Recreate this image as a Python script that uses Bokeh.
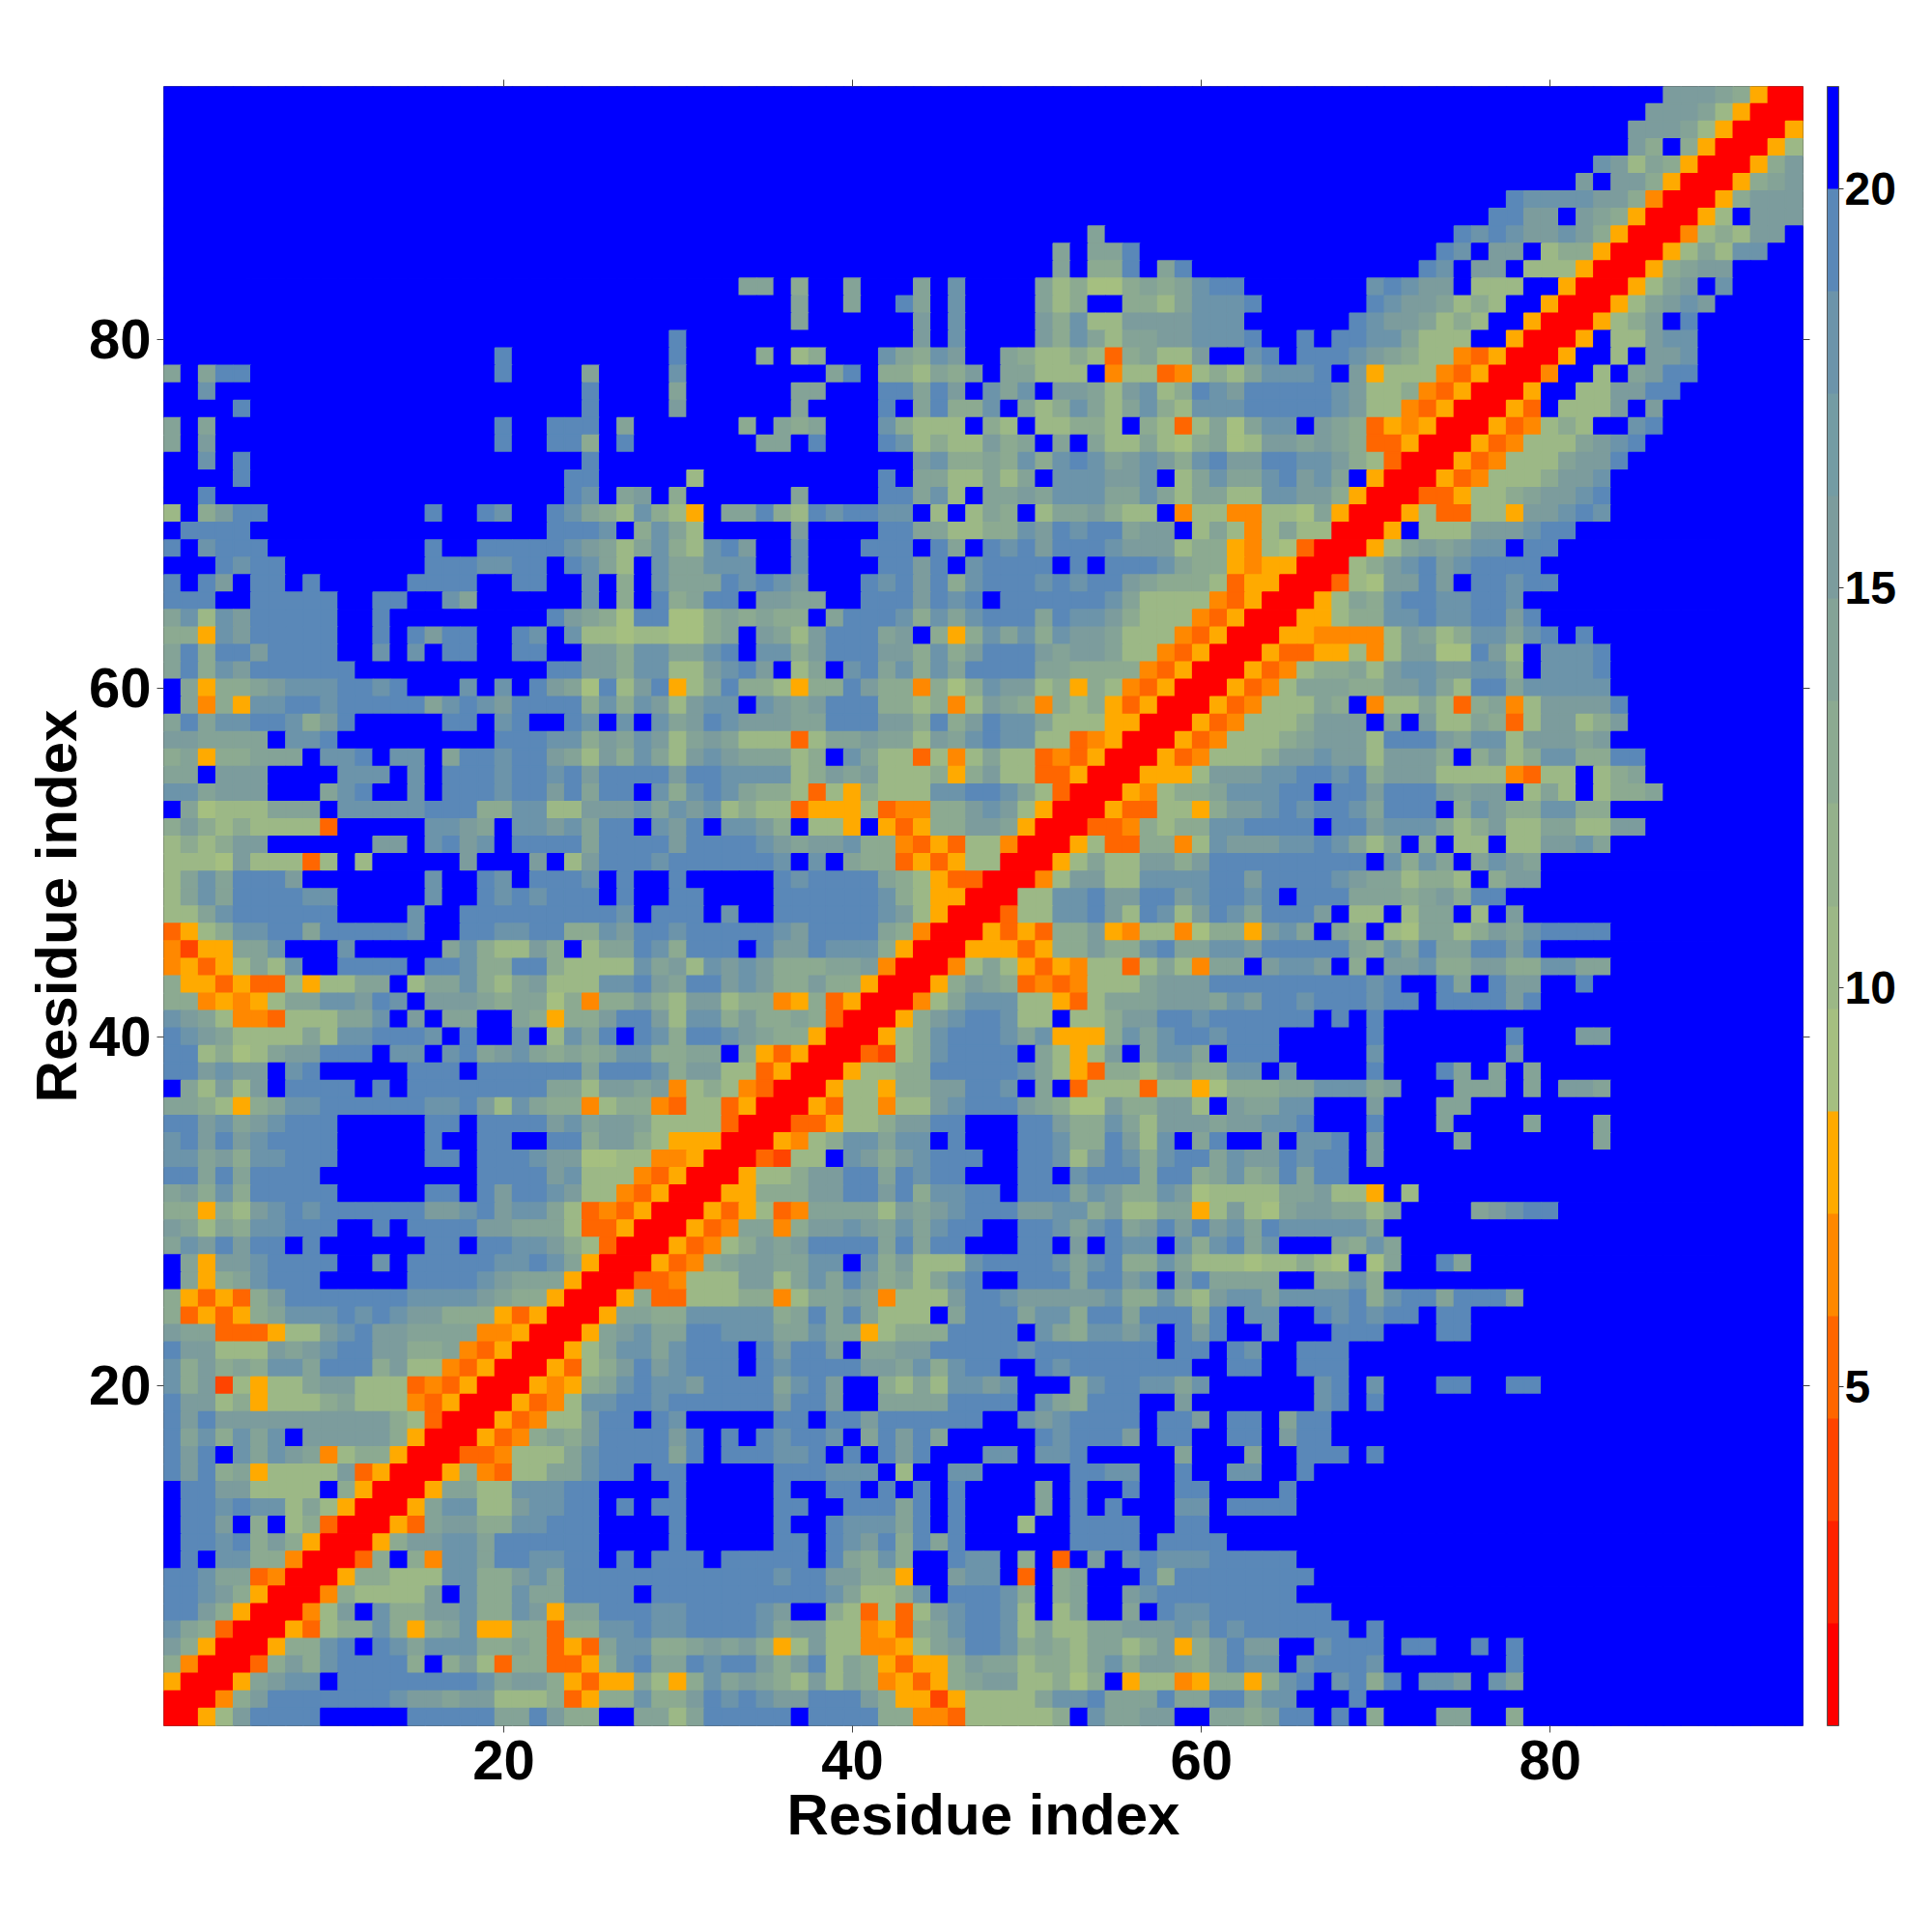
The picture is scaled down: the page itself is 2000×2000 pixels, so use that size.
from bokeh.embed import file_html
from bokeh.resources import INLINE
from bokeh.plotting import figure
from bokeh.models import ColumnDataSource, LinearColorMapper, LinearAxis, ColorBar, FixedTicker, Range1d

TICKS = [20, 40, 60, 80]
CBAR_TICKS = [5, 10, 15, 20]
CBAR_LOW, CBAR_HIGH = 0.76, 21.28
PALETTE = ["#ff0000", "#ff2200", "#ff4400", "#ff6600", "#ff8800", "#ffaa00",
           "#a5bf80", "#9cb886", "#94b18b", "#8caa91", "#84a397", "#7c9c9d",
           "#749ca4", "#6c94aa", "#5a88b8", "#0000ff"]
AXIS_TITLE = "Residue index"

# one hex digit per cell = colour level as read by eye; first row is y=94, columns x=1..94
LEVELS = [
"ffffffffff ffffffffff ffffffffff fff ffffffffff ffffffffff ffffffffff fff ffffffffff ffffffffff bbba9500",
"ffffffffff ffffffffff ffffffffff fff ffffffffff ffffffffff ffffffffff fff ffffffffff fffffffffb bba85000",
"ffffffffff ffffffffff ffffffffff fff ffffffffff ffffffffff ffffffffff fff ffffffffff ffffffffbb ba850005",
"ffffffffff ffffffffff ffffffffff fff ffffffffff ffffffffff ffffffffff fff ffffffffff ffffffffb9 f9500058",
"ffffffffff ffffffffff ffffffffff fff ffffffffff ffffffffff ffffffffff fff ffffffffff ffffffcb8a 9500059b",
"ffffffffff ffffffffff ffffffffff fff ffffffffff ffffffffff ffffffffff fff ffffffffff fffffbfbb9 500059ab",
"ffffffffff ffffffffff ffffffffff fff ffffffffff ffffffffff ffffffffff fff ffffffffff fdccccbb94 00059bbb",
"ffffffffff ffffffffff ffffffffff fff ffffffffff ffffffffff ffffffffff fff ffffffffff ddbbfba950 0058fbbb",
"ffffffffff ffffffffff ffffffffff fff ffffffffff ffffffffff afffffffff fff ffffffffdc dcbbcb9500 04898bbf",
"ffffffffff ffffffffff ffffffffff fff ffffffffff ffffffffaf aadfffffff fff fffffffdcf bbf8995000 58a8ccff",
"ffffffffff ffffffffff ffffffffff fff ffffffffff ffffffffaf 99dfadffff fff ffffffdcfb bf88850005 9abbffff",
"ffffffffff ffffffffff ffffffffff fff aaf9ffafff afcffffa89 779a9acddf fff fffcdcbbf8 88ff500058 abfcffff",
"ffffffffff ffffffffff ffffffffff fff fffaffaffd afcffffa89 ff998acccd fff fffdcbba89 8ff500058a bcbfffff",
"ffffffffff ffffffffff ffffffffff fff fffaffffff bfcffffb9c 88bbbbcccf fff ffdcbba898 ff5000589b fdffffff",
"ffffffffff ffffffffff fffffffffe fff ffffffffff bfcffffb9c a8aabbcccd ffd fddcca888f f50005f88b ccffffff",
"ffffffffff fffffffffe fffffffffe fff f9f89fffca 9cbffa9889 839a88bffc dfd ddcba98843 50005ff8fb bcffffff",
"afaddfffff fffffffffe ffffaffffc fff fffffadf99 8a9bfaa888 f48834898a ccc dfb5888435 0004ff8fab ddffffff",
"ffcfffffff ffffffffff ffffdffffa fff fffaafffdd adbfcacfbb a8bc89dcbd ddd dcb8894350 005ff88bbd dfffffff",
"ffffdfffff ffffffffff ffffdffffb fff fffaffffdf ad99cfa89c a8ac98cccd ddd dcb8843500 053f888bfb ffffffff",
"afafffffff fffffffffd ffdddfafff fff 9fa9afffc9 888f98f889 98f9838a7a ccf ba93545000 534898ffcd ffffffff",
"afbfffffff fffffffffd ffdd9fefff fff faafdfffdc 8988b9afaf a88a879a78 bba ba93350005 34888abcdf ffffffff",
"ffcfdfffff ffffffffff ffffdfffff fff ffffffffff bc99a9c9cd cabcb9cdbb ddc cb98300053 4888abbdff ffffffff",
"ffffdfffff ffffffffff fffddfffff 8ff ffffffffdf aa88a8afcc cbbcf8acaa cdb caf5000534 8889bbcfff ffffffff",
"ffdfffffff ffffffffff fffdcfabf9 fff fffaffffdd ac8faabacc caaca8aa88 ccb b950003358 89abbcdfff ffffffff",
"8f9bddffff fffffdffdc ffdca98c98 5fa ad98dcddcc f8f8a9f8aa b988f48844 887 a500058338 85bbcdcfff ffffffff",
"fddddfffff ffffffffff ffdddcf9ca 8ff fffbffffdd aa8899cbdc ddabbf8a84 8a8 80005f888b bbcddfffff ffffffff",
"dfcdddffff fffffdffdd dddcba8ac9 8cd bffcfffddd fdafdcdbdd dcbbb89954 873 00058ababc cfddffffff ffffffff",
"fffdcddfff fffffdddcc ddfdca8fca acc cffcffffdd bdfcddddfd fdddca9954 550 0089bcdbcd dddfffffff ffffffff",
"dfdbfddfdf ffffddddff ddffcf9fca aad cdcbfffdcd bd9cdddcdc ddba999835 500 0387bbdbfd dcddffffff ffffffff",
"dddffddddd ffddffcaff ffffcf9fd9 aee fbbaaffddd bdcdfddddd dca8888435 000 58a9cddccd dcffffffff ffffffff",
"ac8cbddddd ffdfffffff ffdba97de7 79a 9a99fadddc 9cacdddadc cb98884350 005 5899ccdccd dbdfffffff ffffffff",
"995cbddddd ffdfdbddff dcfc887887 79a fba8bdddab f959cac9cb ba88843500 055 44448ba89c cacdfdffff ffffffff",
"ad9ddbdddd ffcfcfddff ddffbb9cca acd fcc9bdddbb 9c9beedbab ba88435000 533 55848bb77d b8fcccdfff ffffffff",
"ad9cbddddd dfffffffff ffddbb9cc8 8bc dbf8afcdac 9cadeedaa9 9994350005 348 99a8bccbbc c9fcccdfff ffffffff",
"fa599abccc ddcdfffcfc fdba7d8bd5 8ad 998599db99 4979cbb895 9843500053 48a aa99bbca8d dacccccfff ffffffff",
"fa495ccddc dddddacdcb dddd9c9cb8 bcc fcbabddd99 8948ba9498 9535000534 888 a9f488a839 a48bbbbdff ffffffff",
"adaccddc9b dfffffddfc dffdcfcfca bdc bbbaadddbb 9d9bdcca88 8550005348 889 bbbfafb88a 938bb89bff ffffffff",
"bbaaaafccd fffffffffd ddcc9bacb8 aba 88838aabaa 8bacdcc883 4500053488 89a bbb8dddbac c8bbbabfff ffffffff",
"9a599aaafc cdfccfaddc ddba8b9ca8 bcb aaa89fca88 3848a88343 5000534888 9bb cbb8bbb9f9 b89cc99ddf ffffffff",
"aafbbbffff cccfcfdddc ddcdbddddb ddc ccc89bab88 8959b88335 0005558bbb ccd dcd9bbb888 84388f89af ffffffff",
"ccabbbfffa cdffcfdddc ddbdaddfc9 cdc a998385988 8ccdeca830 0054899acc cdd fddbdddbab bf8a8f899a ffffffff",
"fa7888aaaf cccccddd99 cc88bbbcac bc8 9883555834 499bcb8500 05338859bb cdc ddcadddf9c b99cc99fff ffffffff",
"9b98988883 fffffccbaf ccbcaddfcb dfc cb9f885f53 599bba5000 3349899ccd dee fddbccca89 b88aa88bbf ffffffff",
"8989bbffff ffbbfcdbcf ddddaddddb ddd dcbabbc994 3538840005 8339948cbb bcc dca8af9f88 f88bbcafff ffffffff",
"8887b88838 f8fffffbff fbf8bdddcd ddd ddcfcfa993 5358800058 a88bb9bddd ddd dddfc9cafa cbafffffff ffffffff",
"8acadddbff fffffcffdc fdddcfdffd fff ffdcdddda9 853300048b b88ccccddb ddd dcbaa8998f 9bbfffffff ffffffff",
"8acaddddcc fffffcffdc dcdddfdffd dff ffddddddc9 85500088cc dbbeebcddc dfd ddaaa9ab9d dfffffffff ffffffff",
"88acdddddd ffffcffddd dddddecfdd dfc ffddddddcb 85000388cc db8dc8bdca ddd bf88f8aaf8 fbffffffff ffffffff",
"3589ccddad ddddcffddc cdd99cbddc ddd ddcbeddda9 4000535399 b548847995 bca fa9f87aa89 bacddddfff ffffffff",
"4255aacfff cfffffac98 8b9f8aadc9 ddd fdbbdccc95 0005553599 b99cdaaccb ddd dda9cadaad dbdfffffff ffffffff",
"45358a8cff ddddfddc99 dd98888cab 8cb cb999aab40 0048a85354 8838a84aaf bcc bf9fbbc99b b99ccaafff ffffffff",
"9553533858 8aaf8aac98 ab888ccdba deb cb99b99500 059ba93434 888abbbddd ddd dddcdffdaf dbbffdffff ffffffff",
"9945458aac cbdcfbbba9 aa79499b98 bb8 9945935000 48accc8853 8aaabbbacb ddc dddcddfddd dbdfffffff ffffffff",
"cba8443888 aacfbfaaff a9599bddb8 cc9 b99a930005 9bcddc88f8 89bbddcddd ddd fdfdffffff ffffffffff ffffffff",
"ecba8888a8 ccdddcfdff cf8cadfdc9 ddc ba99500058 9cdddcac55 59cacdecdd dff fffdffffff fdfffbbfff ffffffff",
"dd8978abbd ddfccfcdab ca9a9acc99 aaf 9535000328 9cddddfa85 8bfaccafdd dff fffcffffff fbffffffff ffffffff",
"ddbcbbfcdf ffffdddfdd ddddadddc9 bb8 8350005889 9dddddca85 3998ab99cc fcf fffdfffdaf afafffffff ffffffff",
"fa8b8bfddd dfdfdddddd ddaa8bbab4 898 4300058859 9bbddcfaf3 8883885799 9aa cccabfffaa afafbbafff ffffffff",
"aa9859accd dddddccdb8 ca99489943 883 5000538848 8bcdddba97 7b99bb8fba acc fffbfffaaf ffffffffff ffffffff",
"ddbcabcddd fffffddfdd ddbcabba88 883 000335889b bddfffddb9 9ca8bbbabb ccd fffdfffaff ffafffafff ffffffff",
"cebdbcdddd fffffdffdd ffdd9bb985 550 005489ccac cfdfffddc9 9db8cfadff bfc cdfbffffaf ffffffafff ffffffff",
"ccab9ccddd fffffddfdd dcbb778844 500 03288fcb9b cdddffddc8 bdc9cddacb bdc defbffffff ffffffffff ffffffff",
"ddadaddddf ffffffffdd ddbc888435 000 5889bbddad cddfffddfc ddd9dd9ac9 ada ddffffffff ffffffffff ffffffff",
"ab9c9ddddd fffffddfdb ddcb884350 005 5999bbddbd 9ccddfddda cb99cb7888 8aa b885f8ffff ffffffffff ffffffff",
"99598bcdcd dddddbbcdb cca8343500 053 5834aaaa8b abcdddbbcc 9b88aa58b8 7ab baa8affffa bcddffffff ffffffff",
"ba8a9ccddd ffdfddddbb aaa8335000 534 aa49bbcbac acddffddca cdabdbdbca dcc cccaffffff ffffffffff ffffffff",
"acbdbddfdf fffffddfdd ccb9830005 348 9babddddad addfffddfb fdccfc9cda cff fa9cafffff ffffffffff ffffffff",
"fa5bbcdddd ffcfdddddc cdca500053 49a bbaaccfc9b 888cddddca cd99ca8887 889 87f7affdaf ffffffffff ffffffff",
"fa59acdddf ffffddddcb aaa5000334 888 bb8acadb9a 8acdffddda ddbcfbdaaa aff aac9ffffff ffffffffff ffffffff",
"953539bddd ddddccccba 9950005933 888 9948aaba48 88bddcbbbb bc99c98bcc acc ccd9cddadd daffffffff ffffffff",
"935359accc dcdcbb9995 350005aa99 ccc cc9adada88 8fadddacc9 ddaddd9dfc cff dcdcddfddf ffffffffff ffffffff",
"baa333588b cebbaaaa44 50005abcaa ddc ccaacaa589 99ddddfca9 ccbcfdbdff cff fdddfffddf ffffffffff ffffffff",
"dbb888babc ddbb99a435 00058accac ddd fdbddbfaab bdddddcddd ddddfddfdc ffd ddffffffff ffffffffff ffffffff",
"c9b9a9ccad dd9b884350 005389bdbc ddd fdcddddbba c9cddffdcd ddddddffdd ffd ddffffffff ffffffffff ffffffff",
"c9b28588ab b888343500 05459acdcc bdd ddacdbff98 a8ccbcfff9 cddccacfff fff cdfcfffddf fddfffffff ffffffff",
"dbb8958889 a888435000 5348ccddcd ddd ddbddbffaa aaddddfca9 dddffbffff fff cdfdffffff ffffffffff ffffffff",
"dbdbbbbbbb bbb9830005 3488bddfdc fff ffddfddbdd ddddffcbcd dddfddbfdd fad dfffffffff ffffffffff ffffffff",
"dac9cacfbb bbb9500053 49a9bddddb dfd fdcddcfadb dafffffdcd ddbfddffdd fbd dfffffffff ffffffffff ffffffff",
"dbdfcacba4 8995000334 888acdddda dfd ddccdfdfdb dfffccfccd fffffafffa ffd ddfdffffff ffffffffff ffffffff",
"dbd9a58888 b350005943 88aacddfdd fff ffdddcccf8 ffccfffffd dccffdffcc ffd ffffffffff ffffffffff ffffffff",
"fddbb8888f 950005aa88 cccddffffd fff ffdffddfdf dfdffffafd ffdffddfff fdf ffffffffff ffffffffff ffffffff",
"fdecdcc8a8 50005acc88 bccddfdfdd fff ffddffddda dfdffffafd fdfffccfdd ddf ffffffffff ffffffffff ffffffff",
"fddbf9f893 00053abb99 ccdddffffd fff ffdffdccca dfdfff8ffd dddffddfff fff ffffffffff ffffffffff ffffffff",
"fedcd9b950 0059bbccad dddddffffd fff ffddfdcbd9 dadffffffd dddfddddff fff ffffffffff ffffffffff ffffffff",
"fdfcc99400 039f94ccad dccddfdfdd dfd ddddfda9c9 ffdccf9f3f bfcdcccddd ddf ffffffffff ffffffffff ffffffff",
"ddcaa34000 599888cc99 bcaddddddd ddd ddcddbb995 ffbccf3f9a fffd9ddddd ddd ffffffffff ffffffffff ffffffff",
"ddcb950004 98888bfc99 caaddddfdd ddd dddddca889 cfdddc9f9a ffbcdddddd ddf ffffffffff ffffffffff ffffffff",
"ddb9500048 bfc99bbc99 cb5aadddcc ddd dcbff98383 8bcddc8f8a ffafdccddd ddd dfffffffff ffffffffff ffffffff",
"ca93000538 99c959ac55 99399ccdcc ddd dcabb88453 9acddc8a88 aabbbcbdcd ddd ddfdffffff ffffffffff ffffffff",
"b95000599c dfdcaccc99 a9353acc99 aba b958b88445 8abddc9a98 aa89b59bdb bff cdddfddffd fdffffffff ffffffff",
"9400039b9c dddd9f9b83 993359cdaa dcd db9bd8a953 559baa8998 ac9bba9bdc cfc dddcffffff fdffffffff ffffffff",
"50005abccf ddedddddca bb95355a85 9ca ba98b8a945 359abb8897 9f58845995 9cd fcd9dfccbf caffffffff ffffffff",
"00049bdddd eddcbbabb8 8893599c99 bdc dcbbdddb95 5258888acc daaadaadda ccf ffdfffffff ffffffffff ffffffff",
"0058bddddf ffffdddeda adb99ffaa8 add dddfdded99 443888889f caabbffaa9 add fdf9fffaaf f9ffffffff ffffffff",
]

# by-eye shade labels compared with the colorbar bands: recalibrate to the bar's levels
CALIBRATION = str.maketrans("78cd", "67de")
rows = [r.replace(" ", "").translate(CALIBRATION) for r in LEVELS]
bad = [(i + 1, len(r)) for i, r in enumerate(rows) if len(r) != 94]
if bad or len(rows) != 94:
    raise SystemExit(f"bad rows {len(rows)} {bad}")

step = (CBAR_HIGH - CBAR_LOW) / len(PALETTE)
xs, ys, vs = [], [], []
for i, r in enumerate(rows):
    for j, ch in enumerate(r):
        xs.append(j + 1)
        ys.append(94 - i)
        vs.append(CBAR_LOW + (int(ch, 16) + 0.5) * step)

mapper = LinearColorMapper(palette=PALETTE, low=CBAR_LOW, high=CBAR_HIGH)

p = figure(width=1984, height=1900, frame_width=1697, frame_height=1697,
           x_range=Range1d(0.5, 94.5), y_range=Range1d(0.5, 94.5),
           output_backend="svg", toolbar_location=None, tools="",
           min_border_left=169, min_border_top=89, min_border_right=10, min_border_bottom=10,
           background_fill_color="white", outline_line_color="#555555", outline_line_width=1)
p.grid.visible = False
src = ColumnDataSource(dict(x=xs, y=ys, v=vs))
p.rect("x", "y", width=1, height=1, source=src,
       fill_color={"field": "v", "transform": mapper}, fill_alpha=1.0,
       line_color={"field": "v", "transform": mapper}, line_alpha=1.0, line_width=1.5)

FONT = "Liberation Sans"
for ax, lab in ((p.xaxis[0], AXIS_TITLE), (p.yaxis[0], AXIS_TITLE)):
    ax.ticker = FixedTicker(ticks=TICKS)
    ax.axis_label = lab
    ax.axis_label_text_font = FONT
    ax.axis_label_text_font_style = "bold"
    ax.axis_label_text_font_size = "60px"
    ax.major_label_text_font = FONT
    ax.major_label_text_font_style = "bold"
    ax.major_label_text_font_size = "58px"
    ax.major_label_text_color = "black"
    ax.axis_label_text_color = "black"
    ax.axis_line_color = None
    ax.major_tick_line_color = "#444444"
    ax.major_tick_out = 7
    ax.major_tick_in = 0
    ax.minor_tick_line_color = None
p.xaxis[0].axis_label_standoff = 0
p.xaxis[0].major_label_standoff = 8
p.yaxis[0].axis_label_standoff = -3
p.yaxis[0].major_label_standoff = 6
p.yaxis[0].major_label_orientation = "horizontal"

blank = {t: "" for t in TICKS}
for side, standoff in (("above", 0), ("right", 0)):
    ax = LinearAxis(ticker=FixedTicker(ticks=TICKS), major_label_overrides=blank,
                    axis_line_color=None, major_tick_line_color="#444444",
                    major_tick_out=7, major_tick_in=0, minor_tick_line_color=None,
                    major_label_standoff=standoff, major_label_text_font_size="1px")
    p.add_layout(ax, side)

cb = ColorBar(color_mapper=mapper, ticker=FixedTicker(ticks=CBAR_TICKS),
              width=12, height=1697, padding=0, margin=0, location=(18, 0),
              major_label_text_font=FONT, major_label_text_font_style="bold",
              major_label_text_font_size="48px", major_label_text_color="black",
              major_tick_line_color="#333333", major_tick_out=5, major_tick_in=0,
              minor_tick_line_color=None, bar_line_color="#555555", bar_line_width=1,
              label_standoff=1, title=None)
p.add_layout(cb, "right")

open("out.html", "w").write(file_html(p, INLINE))
